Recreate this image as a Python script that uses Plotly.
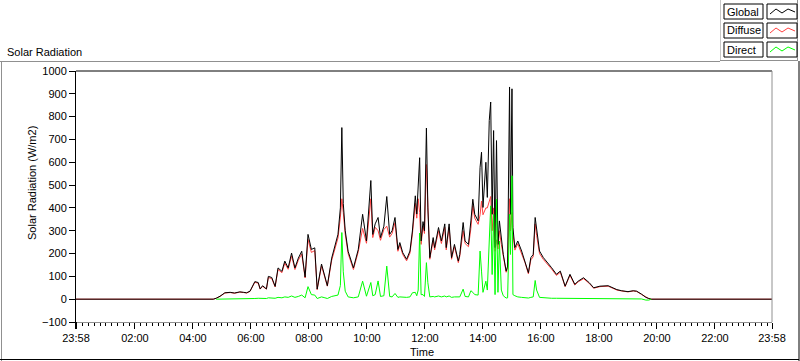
import plotly.graph_objects as go

# ---- data (time in minutes from midnight; -2 = 23:58 of previous day) ----
minutes = [-2, 282, 288, 296, 306, 317, 326, 337, 345, 351, 358, 363, 368, 375, 379, 384, 392, 396, 403, 410,
           416, 424, 430, 437, 444, 451, 458, 465, 472, 478, 485, 492, 497, 506, 513, 518, 527, 534, 540, 545,
           548, 551, 555, 561, 572, 582, 591, 599, 608, 612, 617, 623, 628, 635, 641, 647, 652, 658, 664, 668,
           674, 682, 689, 694, 700, 703, 706, 709, 712, 716, 719, 723, 726, 730, 737, 740, 748, 754, 761, 764,
           770, 775, 781, 789, 792, 799, 803, 810, 815, 819, 823, 830, 834, 837, 840, 846, 849, 853, 856, 859,
           862, 865, 868, 871, 874, 878, 882, 888, 891, 895, 897, 900, 902, 906, 912, 920, 927, 934, 939, 944,
           948, 951, 957, 965, 971, 982, 992, 1000, 1010, 1020, 1030, 1037, 1048, 1060, 1069, 1082, 1099, 1108, 1117, 1127,
           1140, 1151, 1158, 1168, 1177, 1183, 1188, 1438]

glob = [0, 0, 4, 13, 28, 30, 27, 32, 30, 28, 35, 55, 77, 73, 45, 59, 45, 100, 95, 56,
        137, 122, 167, 137, 202, 137, 180, 210, 97, 284, 218, 225, 44, 154, 103, 59, 180, 238, 284, 400,
        752, 420, 300, 210, 137, 218, 372, 255, 520, 284, 330, 358, 270, 320, 450, 284, 300, 358, 218, 248,
        204, 175, 211, 299, 453, 373, 475, 620, 255, 340, 300, 750, 400, 182, 270, 226, 314, 255, 330, 226,
        330, 182, 240, 167, 196, 336, 255, 240, 343, 438, 372, 343, 578, 644, 402, 600, 446, 783, 864, 372,
        739, 226, 695, 240, 343, 260, 196, 123, 145, 930, 372, 922, 314, 226, 255, 211, 167, 116, 182, 196,
        358, 299, 211, 182, 167, 138, 109, 123, 57, 109, 65, 79, 94, 72, 50, 57, 59, 50, 42, 37,
        33, 37, 35, 22, 8, 3, 0, 0]

diff = [0, 0, 4, 12, 27, 29, 26, 31, 29, 27, 34, 53, 74, 70, 44, 56, 44, 95, 90, 54,
        130, 116, 158, 131, 190, 130, 171, 198, 93, 262, 205, 213, 42, 146, 98, 57, 170, 225, 268, 360,
        440, 380, 285, 200, 130, 208, 310, 245, 440, 270, 315, 300, 258, 305, 320, 272, 288, 335, 210, 238,
        196, 168, 202, 285, 420, 355, 440, 380, 240, 320, 288, 590, 380, 175, 258, 216, 300, 244, 315, 216,
        315, 175, 230, 160, 188, 300, 244, 230, 310, 410, 355, 328, 370, 430, 370, 400, 400, 430, 450, 300,
        400, 210, 260, 220, 300, 240, 185, 118, 138, 440, 300, 380, 290, 215, 243, 200, 160, 111, 172, 186,
        330, 280, 200, 174, 160, 132, 104, 118, 55, 104, 62, 76, 90, 69, 48, 55, 57, 48, 40, 36,
        32, 36, 34, 21, 8, 3, 0, 0]

direct = [None, None, 0, 0, 1, 1, 1, 1, 2, 2, 2, 2, 3, 4, 3, 4, 3, 6, 5, 4,
          8, 6, 10, 8, 14, 8, 12, 18, 6, 55, 20, 18, 3, 10, 6, 3, 12, 14, 18, 60,
          292, 120, 35, 10, 6, 10, 79, 13, 73, 15, 20, 80, 12, 15, 145, 12, 10, 25, 8, 10,
          8, 8, 10, 28, 30, 15, 40, 290, 20, 20, 12, 160, 72, 10, 12, 10, 14, 10, 14, 10,
          14, 8, 10, 8, 10, 44, 12, 10, 37, 30, 20, 18, 211, 123, 30, 79, 40, 255, 409, 108,
          372, 20, 438, 30, 255, 40, 15, 5, 6, 372, 196, 541, 20, 15, 10, 8, 6, 5, 8, 10,
          82, 40, 8, 6, 5, 4, 4, 4, 2, 4, 3, 3, 3, 3, 2, 2, 2, 2, 2, 1,
          1, 1, 1, 1, -4, -4, 0, None]

tick_vals = [-2, 120, 240, 360, 480, 600, 720, 840, 960, 1080, 1200, 1320, 1438]
tick_text = ["23:58", "02:00", "04:00", "06:00", "08:00", "10:00", "12:00",
             "14:00", "16:00", "18:00", "20:00", "22:00", "23:58"]
y_ticks = [-100, 0, 100, 200, 300, 400, 500, 600, 700, 800, 900, 1000]

# ---- geometry helpers (pixel -> paper) ----
W, H = 800, 361
L, R, T, B = 76, 772, 71, 322


def px(x):
    return (x - L) / (R - L)


def py(y):
    return (B - y) / (B - T)


FONT = "Liberation Sans"

fig = go.Figure()
fig.add_trace(go.Scatter(x=minutes, y=diff, mode="lines", name="Diffuse",
                         line=dict(color="rgb(255,64,64)", width=1)))
fig.add_trace(go.Scatter(x=minutes, y=glob, mode="lines", name="Global",
                         line=dict(color="black", width=1)))
fig.add_trace(go.Scatter(x=minutes, y=direct, mode="lines", name="Direct",
                         line=dict(color="rgb(0,255,0)", width=1), connectgaps=False))

shapes = []


def line(x0, y0, x1, y1, color, width=1):
    shapes.append(dict(type="line", xref="paper", yref="paper",
                       x0=px(x0), y0=py(y0), x1=px(x1), y1=py(y1),
                       line=dict(color=color, width=width), layer="above"))


# plot frame (top black, right gray)
line(L, T, R, T, "black")
line(R, T, R, B, "#909090")
# bold first tick
line(L, B, L, B + 7, "black", 2)
# outer panel frame
line(0, 61.5, 720, 61.5, "#909090")
line(720, 60.5, 798, 60.5, "#909090")
line(720.5, 0, 720.5, 60, "#c8c8c8")
line(797.5, 0, 797.5, 60, "#909090")
line(799, 61, 799, 361, "black")
line(1.5, 61, 1.5, 361, "#909090")
line(0, 359.5, 799, 359.5, "black")

annotations = []
legend_items = [("Global", "black"), ("Diffuse", "rgb(255,64,64)"), ("Direct", "rgb(0,255,0)")]
for i, (name, col) in enumerate(legend_items):
    y0 = 4 + i * 19
    y1 = y0 + 15
    shapes.append(dict(type="rect", xref="paper", yref="paper",
                       x0=px(724), x1=px(763), y0=py(y1), y1=py(y0),
                       line=dict(color="black", width=1), fillcolor="white"))
    shapes.append(dict(type="rect", xref="paper", yref="paper",
                       x0=px(767), x1=px(797), y0=py(y1), y1=py(y0),
                       line=dict(color="black", width=1), fillcolor="white"))
    zig = [(770, y0 + 10), (776, y0 + 5), (782, y0 + 9), (788, y0 + 5), (795, y0 + 8)]
    path = "M " + " L ".join(f"{px(a):.5f},{py(b):.5f}" for a, b in zig)
    shapes.append(dict(type="path", xref="paper", yref="paper", path=path,
                       line=dict(color=col, width=1)))
    annotations.append(dict(text=name, xref="paper", yref="paper", x=px(725), y=py((y0 + y1) / 2),
                            xanchor="left", yanchor="middle", showarrow=False,
                            font=dict(family=FONT, size=11, color="black")))

annotations.append(dict(text="Solar Radiation", xref="paper", yref="paper", x=px(5), y=py(52),
                        xanchor="left", yanchor="middle", showarrow=False,
                        font=dict(family=FONT, size=11, color="black")))
annotations.append(dict(text="Time", xref="paper", yref="paper", x=px(422), y=py(352),
                        xanchor="center", yanchor="middle", showarrow=False,
                        font=dict(family=FONT, size=11, color="black")))
annotations.append(dict(text="Solar Radiation (W/m2)", xref="paper", yref="paper", x=px(32), y=py(183),
                        xanchor="center", yanchor="middle", showarrow=False, textangle=-90,
                        font=dict(family=FONT, size=11, color="black")))

fig.update_layout(
    width=W, height=H,
    margin=dict(l=L, r=W - R, t=T, b=H - B, pad=0),
    paper_bgcolor="white", plot_bgcolor="white",
    showlegend=False,
    font=dict(family=FONT, size=11, color="black"),
    shapes=shapes, annotations=annotations,
    xaxis=dict(range=[-2, 1438], tickmode="array", tickvals=tick_vals, ticktext=tick_text,
               ticks="outside", ticklen=6, tickcolor="black", tickwidth=1,
               showline=True, linecolor="#909090", linewidth=1, showgrid=False, zeroline=False,
               minor=dict(ticks="outside", ticklen=3, tickcolor="black", dtick=12, tick0=0, showgrid=False),
               tickfont=dict(family=FONT, size=11, color="black"), fixedrange=True),
    yaxis=dict(range=[-100, 1000], tickmode="array", tickvals=y_ticks,
               ticks="outside", ticklen=6, tickcolor="black", tickwidth=1,
               showline=True, linecolor="black", linewidth=1, showgrid=False, zeroline=False,
               tickfont=dict(family=FONT, size=11, color="black"), fixedrange=True),
)

fig.write_html("out.html", config={"displayModeBar": False},
               post_script="document.body.style.margin='0';document.body.style.overflow='hidden';")
